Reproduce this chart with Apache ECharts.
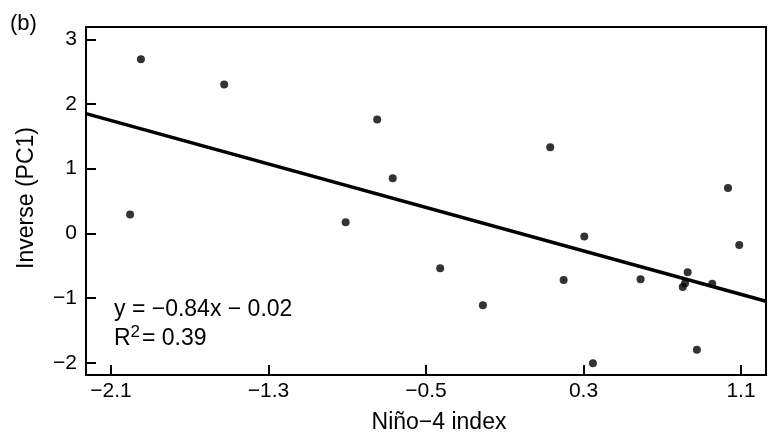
<!DOCTYPE html>
<html>
<head>
<meta charset="utf-8">
<script src="https://cdn.jsdelivr.net/npm/echarts@6/dist/echarts.min.js"></script>
<style>html,body{margin:0;padding:0;background:#fff}#c{width:768px;height:439px}</style>
</head>
<body>
<div id="c"></div>
<script>
// Data
var ninoX = [-1.948, -2.003, -1.525, -0.748, -0.669, -0.908, -0.428, -0.211, 0.199, 0.348, 0.590, 0.829, 0.804, 0.816, 0.954, 0.876, 0.131, 0.304, 1.034, 1.091];
var pc1Y  = [2.69, 0.29, 2.30, 1.76, 0.85, 0.17, -0.54, -1.11, -0.72, -2.01, -0.71, -0.60, -0.83, -0.77, -0.78, -1.80, 1.33, -0.05, 0.70, -0.18];
var xTicks = [-2.1, -1.3, -0.5, 0.3, 1.1];
var yTicks = [-2, -1, 0, 1, 2, 3];
var fitSlope = -0.84;
var fitIntercept = -0.02;
var fitText = 'y = \u22120.84x \u2212 0.02';
var r2Value = '0.39';
var xTitle = 'Ni\u00f1o\u22124 index';
var yTitle = 'Inverse (PC1)';
var panelTag = '(b)';

var xMin = -2.227, xMax = 1.227, yMin = -2.19, yMax = 3.19;
var FONT = '"Liberation Sans", Arial, Helvetica, sans-serif';

var pts = ninoX.map(function (x, i) { return [x, pc1Y[i]]; });
var fitLine = [[xMin, fitSlope * xMin + fitIntercept], [xMax, fitSlope * xMax + fitIntercept]];
function minus(v) { return String(v).replace('-', '\u2212'); }

var chart = echarts.init(document.getElementById('c'), null, {renderer: 'canvas'});
chart.setOption({
  animation: false,
  backgroundColor: '#fff',
  grid: {left: 86, right: 2, top: 27, bottom: 64, show: true, borderColor: '#000', borderWidth: 2, backgroundColor: 'transparent'},
  xAxis: {
    type: 'value', min: xMin, max: xMax,
    axisLine: {show: true, onZero: false, lineStyle: {color: '#000', width: 2}},
    axisTick: {show: true, inside: true, length: 10, customValues: xTicks, lineStyle: {color: '#000', width: 2}},
    axisLabel: {customValues: xTicks, formatter: function (v) { return minus(v.toFixed(1)); }, fontFamily: FONT, fontSize: 21, color: '#000', margin: 6},
    splitLine: {show: false}
  },
  yAxis: {
    type: 'value', min: yMin, max: yMax,
    axisLine: {show: true, onZero: false, lineStyle: {color: '#000', width: 2}},
    axisTick: {show: true, inside: true, length: 10, customValues: yTicks, lineStyle: {color: '#000', width: 2}},
    axisLabel: {customValues: yTicks, formatter: function (v) { return minus(v); }, fontFamily: FONT, fontSize: 21, color: '#000', margin: 9},
    splitLine: {show: false}
  },
  series: [
    {type: 'line', data: fitLine, symbol: 'none', lineStyle: {color: '#000', width: 3.5}, silent: true, z: 2},
    {type: 'scatter', data: pts, symbol: 'circle', symbolSize: 8, itemStyle: {color: '#000'}, z: 3}
  ],
  graphic: [
    {type: 'text', x: 10, y: 24, style: {text: panelTag, font: '22px ' + FONT, fill: '#000', textVerticalAlign: 'middle'}},
    {type: 'text', x: 439, y: 423, style: {text: xTitle, font: '23px ' + FONT, fill: '#000', textAlign: 'center', textVerticalAlign: 'middle'}},
    {type: 'text', x: 27, y: 198, rotation: Math.PI / 2, style: {text: yTitle, font: '23px ' + FONT, fill: '#000', textAlign: 'center', textVerticalAlign: 'middle'}},
    {type: 'text', x: 114, y: 310, style: {text: fitText, font: '23px ' + FONT, fill: '#000', textVerticalAlign: 'middle'}},
    {type: 'text', x: 114, y: 338.5, style: {text: 'R', font: '23px ' + FONT, fill: '#000', textVerticalAlign: 'middle'}},
    {type: 'text', x: 130.5, y: 332, style: {text: '2', font: '17px ' + FONT, fill: '#000', textVerticalAlign: 'middle'}},
    {type: 'text', x: 142, y: 338.5, style: {text: '= ' + r2Value, font: '23px ' + FONT, fill: '#000', textVerticalAlign: 'middle'}}
  ]
});
</script>
</body>
</html>
